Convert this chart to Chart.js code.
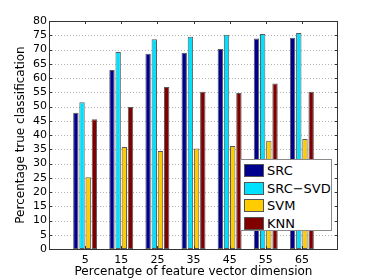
<!DOCTYPE html>
<html>
<head>
<meta charset="utf-8">
<script src="https://cdn.jsdelivr.net/npm/chart.js@4.4.1/dist/chart.umd.min.js"></script>
<style>
html,body{margin:0;padding:0;background:#fff;}
#wrap{position:relative;width:374px;height:280px;}
#legend{position:absolute;left:240px;top:159px;width:92px;height:72px;border:1px solid #8a8a8a;background:#fff;font-family:"DejaVu Sans",sans-serif;font-size:13px;color:#000;box-sizing:border-box;padding-top:2px;}
#legend .row{display:flex;align-items:center;height:17.6px;}
#legend .sw{width:20px;height:13px;margin-left:3px;margin-right:3px;box-sizing:border-box;border:1px solid #555;}
</style>
</head>
<body>
<div id="wrap">
<canvas id="c" width="374" height="280"></canvas>
<div id="legend"></div>
</div>
<script>
const categories = ['5', '15', '25', '35', '45', '55', '65'];
const seriesNames = ['SRC', 'SRC\u2212SVD', 'SVM', 'KNN'];
const src    = [47.8, 62.8, 68.5, 68.9, 70.2, 73.9, 74.1];
const srcSvd = [51.5, 69.1, 73.6, 74.5, 75.2, 75.4, 75.8];
const svm    = [25.2, 35.8, 34.4, 35.3, 36.1, 38.0, 38.6];
const knn    = [45.5, 49.8, 56.8, 55.2, 54.7, 58.1, 55.2];
const yTicks = [0,5,10,15,20,25,30,35,40,45,50,55,60,65,70,75,80];
const colors = ['#00008f', '#00e1ff', '#ffcc00', '#800000'];

const labels = [''].concat(categories, ['']);
function pad(arr){ return [null].concat(arr, [null]); }
const seriesData = [src, srcSvd, svm, knn];

const datasets = seriesData.map((d, i) => ({
  label: seriesNames[i],
  data: pad(d),
  backgroundColor: colors[i],
  borderColor: '#5a5a5a',
  borderWidth: 1,
  borderSkipped: false,
  categoryPercentage: 0.685,
  barPercentage: 0.87
}));

const boxPlugin = {
  id: 'box',
  beforeDatasetsDraw(chart) {
    const {ctx, chartArea: a, scales} = chart;
    ctx.save();
    ctx.strokeStyle = '#b4b4b4';
    ctx.lineWidth = 1;
    ctx.setLineDash([1, 2]);
    ctx.beginPath();
    yTicks.forEach(v => {
      if (v === 0 || v === 80) return;
      const y = Math.round(scales.y.getPixelForValue(v)) + 0.5;
      ctx.moveTo(a.left, y); ctx.lineTo(a.right, y);
    });
    ctx.stroke();
    ctx.restore();
  },
  afterDraw(chart) {
    const {ctx, chartArea: a, scales} = chart;
    ctx.save();
    ctx.strokeStyle = '#333';
    ctx.lineWidth = 1;
    ctx.strokeRect(Math.round(a.left)+0.5, Math.round(a.top)+0.5, Math.round(a.right-a.left)-1, Math.round(a.bottom-a.top));
    ctx.beginPath();
    categories.forEach((c, i) => {
      const x = Math.round(scales.x.getPixelForValue(i+1)) + 0.5;
      ctx.moveTo(x, a.top); ctx.lineTo(x, a.top + 3);
      ctx.moveTo(x, a.bottom); ctx.lineTo(x, a.bottom - 3);
    });
    yTicks.forEach(v => {
      const y = Math.round(scales.y.getPixelForValue(v)) + 0.5;
      ctx.moveTo(a.left, y); ctx.lineTo(a.left + 3, y);
      ctx.moveTo(a.right, y); ctx.lineTo(a.right - 3, y);
    });
    ctx.stroke();
    ctx.restore();
  }
};

new Chart(document.getElementById('c'), {
  type: 'bar',
  data: { labels, datasets },
  options: {
    responsive: false,
    animation: false,
    devicePixelRatio: 1,
    layout: { padding: { left: 0, top: 21, right: 36, bottom: 0 } },
    plugins: { legend: { display: false }, tooltip: { enabled: false } },
    scales: {
      x: {
        offset: false,
        grid: { display: false, drawTicks: false },
        border: { display: false },
        ticks: { padding: 5, color: '#000', maxRotation: 0, autoSkip: false,
                 font: { family: 'DejaVu Sans', size: 11 } },
        title: { display: true, text: 'Percenatge of feature vector dimension', color: '#000',
                 font: { family: 'DejaVu Sans', size: 12 }, padding: { top: 0, bottom: 1 } },
        afterFit(s) { s.height = 31; }
      },
      y: {
        min: 0, max: 80,
        afterBuildTicks(s) { s.ticks = yTicks.map(v => ({ value: v })); },
        grid: { display: false, drawTicks: false },
        border: { display: false },
        ticks: { padding: 2, color: '#000', autoSkip: false, font: { family: 'DejaVu Sans', size: 11 } },
        title: { display: true, text: 'Percentage true classification', color: '#000',
                 font: { family: 'DejaVu Sans', size: 12 }, padding: { top: 14, bottom: 0 } },
        afterFit(s) { s.width = 49; }
      }
    }
  },
  plugins: [boxPlugin]
});

const leg = document.getElementById('legend');
seriesNames.forEach((n, i) => {
  const r = document.createElement('div'); r.className = 'row';
  const sw = document.createElement('span'); sw.className = 'sw'; sw.style.background = colors[i];
  const t = document.createElement('span'); t.textContent = n;
  r.appendChild(sw); r.appendChild(t); leg.appendChild(r);
});
</script>
</body>
</html>
